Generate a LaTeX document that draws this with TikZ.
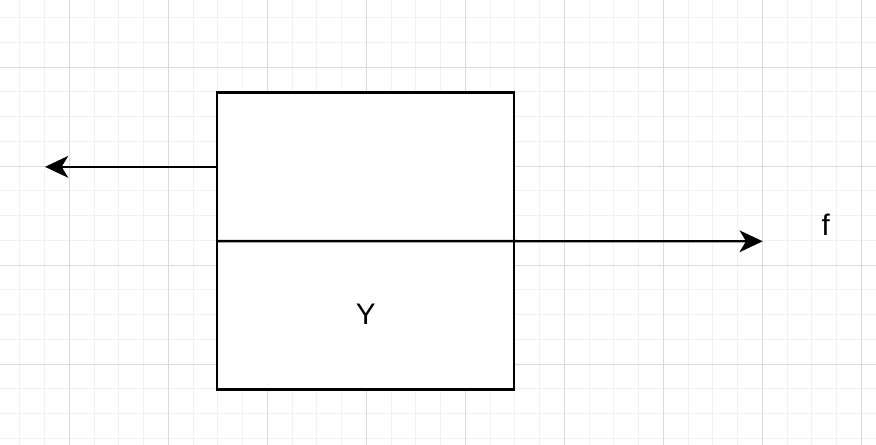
\documentclass[tikz,border=0pt]{standalone}
\usepackage{fontspec}
\setmainfont{Liberation Sans}
\usetikzlibrary{arrows.meta}
\definecolor{gridmajor}{HTML}{DADADA}
\definecolor{gridminor}{HTML}{F1F1F1}
\begin{document}
\begin{tikzpicture}[x=0.75pt,y=-0.75pt,
  half/.style={draw=black, line width=1.8pt, fill=white, minimum width=222.75pt, minimum height=111.4pt, inner sep=0pt, outer sep=0pt},
  conn/.style={draw=black, line width=1.8pt, -{Stealth[length=17.5pt,width=16.5pt,inset=5pt,line width=0pt]}},
  lbl/.style={font=\fontsize{22.3pt}{25pt}\selectfont, inner sep=0pt, anchor=base}]
\useasboundingbox (0,0) rectangle (876,445);
\fill[white] (0,0) rectangle (876,445);
% grid
\foreach \i in {0,...,36} {\draw[gridminor, line width=0.75pt] ({-4.95+24.75*\i},0) -- ({-4.95+24.75*\i},445);}
\foreach \j in {0,...,18} {\draw[gridminor, line width=0.75pt] (0,{-7+24.75*\j}) -- (876,{-7+24.75*\j});}
\foreach \i in {0,...,8} {\draw[gridmajor, line width=0.75pt] ({69.3+99*\i},0) -- ({69.3+99*\i},445);}
\foreach \j in {0,...,3} {\draw[gridmajor, line width=0.75pt] (0,{67.3+99*\j}) -- (876,{67.3+99*\j});}
% box
\node[half] (top) at (365.5,166.85) {};
\node[half] (bot) at (365.5,315.35) {};
\node[lbl] (ylab) at (365.7,324.3) {Y};
% connectors
\coordinate (lend) at (45,166.85);
\coordinate (rend) at (762.7,241.3);
\draw[conn] (top.west) -- (lend);
\draw[conn] (bot.north west) -- (rend);
\node[lbl] (flab) at (825.8,235.7) {f};
\end{tikzpicture}
\end{document}
